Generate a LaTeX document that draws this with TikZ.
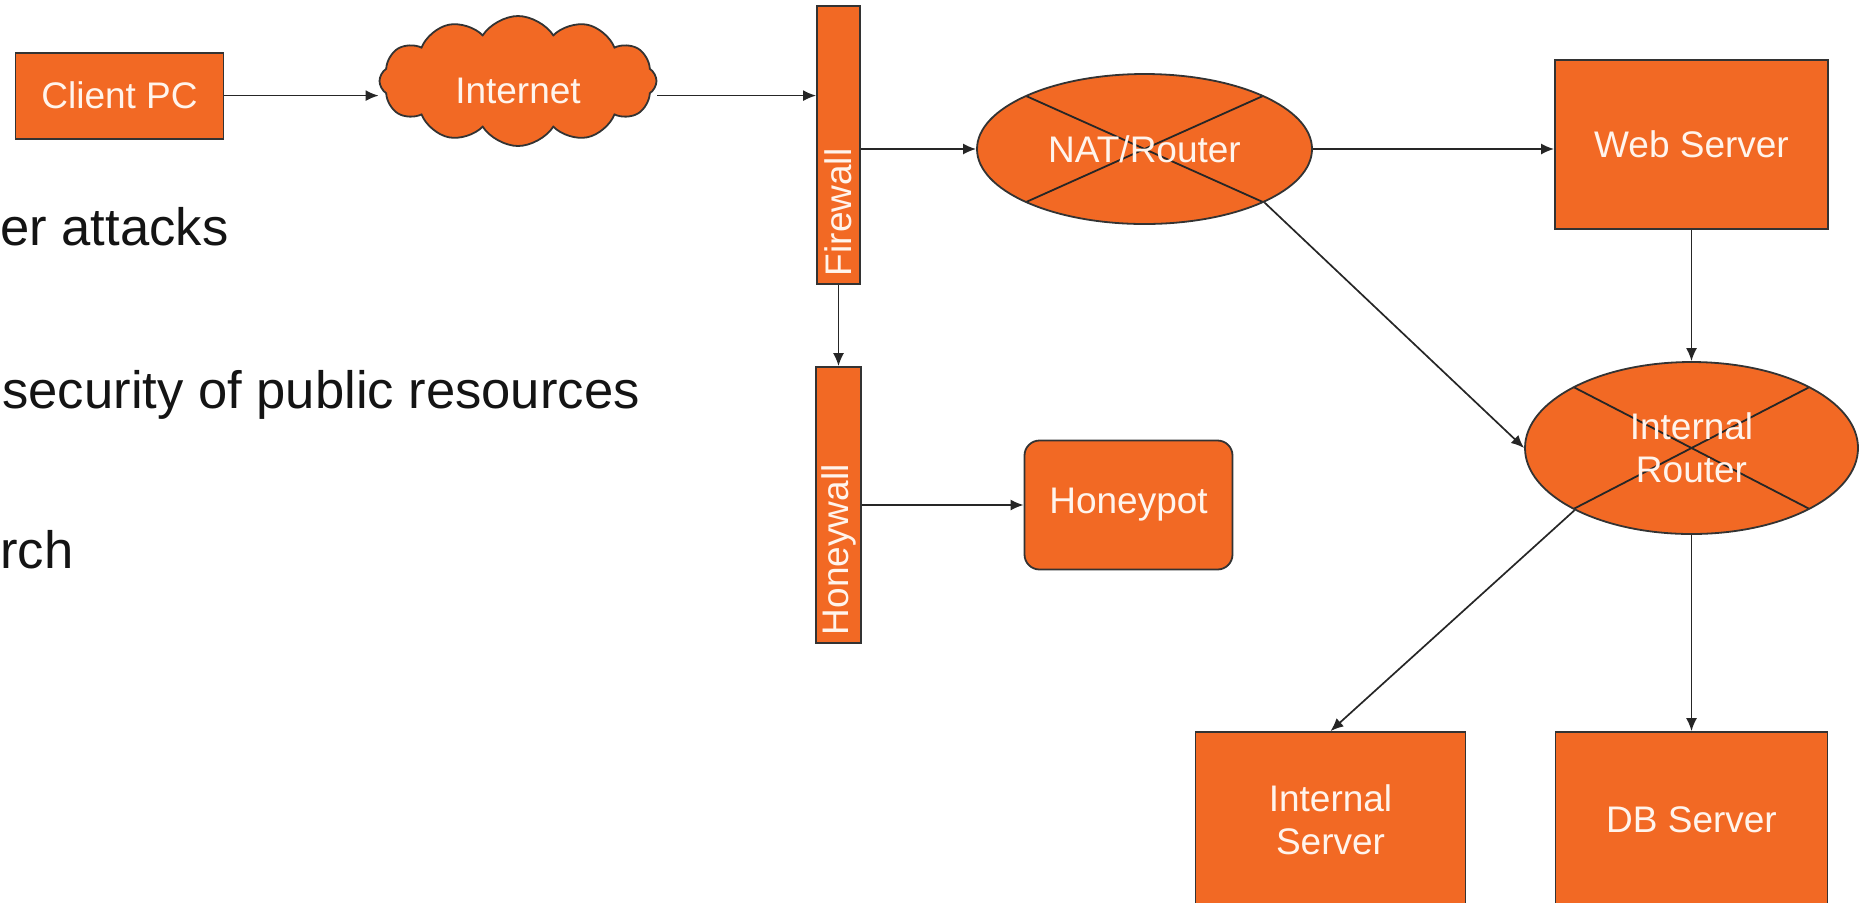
\documentclass[tikz,border=0pt]{standalone}
\usepackage{fontspec}
\setmainfont{Liberation Sans}
\usepackage{tikz}
\usetikzlibrary{arrows.meta, positioning, shapes.geometric, shapes.symbols}
\definecolor{netorange}{HTML}{F26924}
\definecolor{labelwhite}{HTML}{FFF4EC}
\newcommand{\devfont}{\fontsize{18.5}{21.5}\selectfont}
\tikzstyle{device}=[rectangle, draw=black!80, fill=netorange, line width=0.9pt, text=labelwhite, font=\devfont, align=center]
\tikzstyle{wall}=[device, rotate=90, inner xsep=4pt, inner ysep=0pt, minimum height=21.5pt, align=left]
\tikzstyle{router}=[device, ellipse, path picture={\draw[line width=0.9pt, draw=black!85] (path picture bounding box.south west) -- (path picture bounding box.north east) (path picture bounding box.north west) -- (path picture bounding box.south east);}]
\tikzstyle{link}=[-{Latex[length=6.5pt,width=5.5pt]}, line width=0.85pt, draw=black!85]
\tikzstyle{slidetext}=[anchor=base west, inner sep=0pt, text=black!92, font=\fontsize{26.3}{30}\selectfont]

\begin{document}
\begin{tikzpicture}[on grid]
  \useasboundingbox (0,0) rectangle (936.5pt,-451pt);

  % leftover slide text
  \node[slidetext] (t1) at (0pt,-122.5pt) {er attacks};
  \node[slidetext] (t2) at (1pt,-204pt) {security of public resources};
  \node[slidetext] (t3) at (0pt,-284pt) {rch};

  % outside
  \node[device, minimum width=104pt, minimum height=43pt] (client) at (59.75pt,-47.8pt) {Client PC};
  \node[device, cloud, cloud puffs=12, cloud puff arc=115, aspect=2.1, minimum width=138.5pt, minimum height=65pt] (inet) [above right=7.3pt and 199.25pt of client] {\raisebox{-4.8pt}[\height][\depth]{Internet}};

  % perimeter
  \node[wall, text width=131pt] (fw) [below right=32pt and 160.25pt of inet] {Firewall};
  \node[wall, text width=130pt, minimum height=22.5pt] (hw) [below=180pt of fw] {Honeywall};
  \node[device, rounded corners=7.5pt, minimum width=104pt, minimum height=64.5pt] (hp) [right=145pt of hw] {Honeypot};

  % inside
  \node[router, minimum width=167.5pt, minimum height=75pt] (nat) [below right=2pt and 153pt of fw] {NAT/Router};
  \node[device, minimum width=136.5pt, minimum height=84.5pt] (web) [above right=2.25pt and 273.5pt of nat] {Web Server};
  \node[router, minimum width=166.5pt, minimum height=86pt] (ir) [below=151.75pt of web] {Internal\\Router};
  \node[device, minimum width=136pt, minimum height=88pt] (db) [below=186pt of ir] {DB Server};
  \node[device, minimum width=135pt, minimum height=88pt] (isrv) [left=180.5pt of db] {Internal\\Server};

  \draw[link] (client.east) -- (client.east -| inet.west);
  \draw[link] (client.east -| inet.east) -- (client.east -| fw.north);
  \draw[link] (nat.west -| fw.south) -- (nat.west);
  \draw[link] (fw.west) -- (hw.east);
  \draw[link] (hp.west -| hw.south) -- (hp.west);
  \draw[link] (nat.east) -- (nat.east -| web.west);
  \draw[link] (web.south) -- (ir.north);
  \draw[link] (nat.-24) -- (ir.west);
  \draw[link] (ir.208) -- (isrv.north);
  \draw[link] (ir.south) -- (db.north);
\end{tikzpicture}
\end{document}
